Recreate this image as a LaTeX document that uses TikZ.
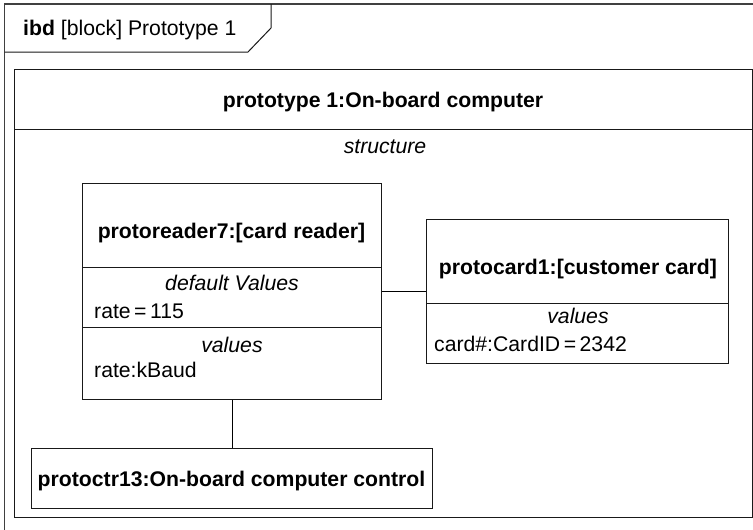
\documentclass[tikz,border=0pt]{standalone}
\usepackage{fontspec}
\setmainfont{Liberation Sans}
\begin{document}
\begin{tikzpicture}[x=1pt,y=-1pt,
  framestyle/.style={draw=black!75, line width=1.3pt},
  boxline/.style={draw=black!90, line width=1pt},
  blockbox/.style={boxline, rectangle, anchor=north west, inner sep=0pt},
  txt/.style={inner sep=0pt, anchor=base, font=\fontsize{21.2}{25}\selectfont},
  ttl/.style={txt, font=\fontsize{21.2}{25}\selectfont\bfseries},
  itl/.style={txt, font=\fontsize{21.2}{25}\selectfont\itshape},
  conn/.style={draw=black, line width=1pt}]
\useasboundingbox (0,0) rectangle (753,530);
% outer frame and tab
\draw[framestyle] (4.5,535) -- (4.5,4) -- (760,4);
\draw[boxline] (4.5,52) -- (248,52) -- (271,28) -- (271,4);
\node[txt, anchor=base west] (tab) at (23,35) {\textbf{ibd} [block] Prototype 1};
% inner block
\node[blockbox, minimum width=738pt, minimum height=448pt] (proto) at (14,69) {};
\draw[boxline] (proto.west |- 0,129) coordinate (ph1) -- (proto.east |- 0,129) coordinate (ph2);
\node[ttl] (protot) at (383,107) {prototype 1:On-board computer};
\node[itl] (struct) at (385,153) {structure};
% card reader
\node[blockbox, minimum width=299pt, minimum height=216pt] (reader) at (82,183) {};
\draw[boxline] (reader.west |- 0,267) coordinate (r1a) -- (reader.east |- 0,267) coordinate (r1b);
\draw[boxline] (reader.west |- 0,327) coordinate (r2a) -- (reader.east |- 0,327) coordinate (r2b);
\node[ttl] (readert) at (231.5,238) {protoreader7:[card reader]};
\node[itl] (rdv) at (232,290) {default Values};
\node[txt, anchor=base west] (rrate) at (94,318) {rate\,=\,115};
\node[itl] (rv) at (232,352) {values};
\node[txt, anchor=base west] (rbaud) at (94,377) {rate:kBaud};
% customer card
\node[blockbox, minimum width=302pt, minimum height=144pt] (card) at (426,219) {};
\draw[boxline] (card.west |- 0,303) coordinate (c1a) -- (card.east |- 0,303) coordinate (c1b);
\node[ttl] (cardt) at (578,274) {protocard1:[customer card]};
\node[itl] (cv) at (578,323) {values};
\node[txt, anchor=base west] (cid) at (434,351) {card\#:CardID\,=\,2342};
% control
\node[blockbox, minimum width=401pt, minimum height=60pt] (ctrl) at (31,448) {};
\node[ttl] (ctrlt) at (231.5,486) {protoctr13:On-board computer control};
% connectors
\draw[conn] (reader.east) -- (card.west);
\draw[conn] (reader.south) -- (ctrl.north);
\end{tikzpicture}
\end{document}
